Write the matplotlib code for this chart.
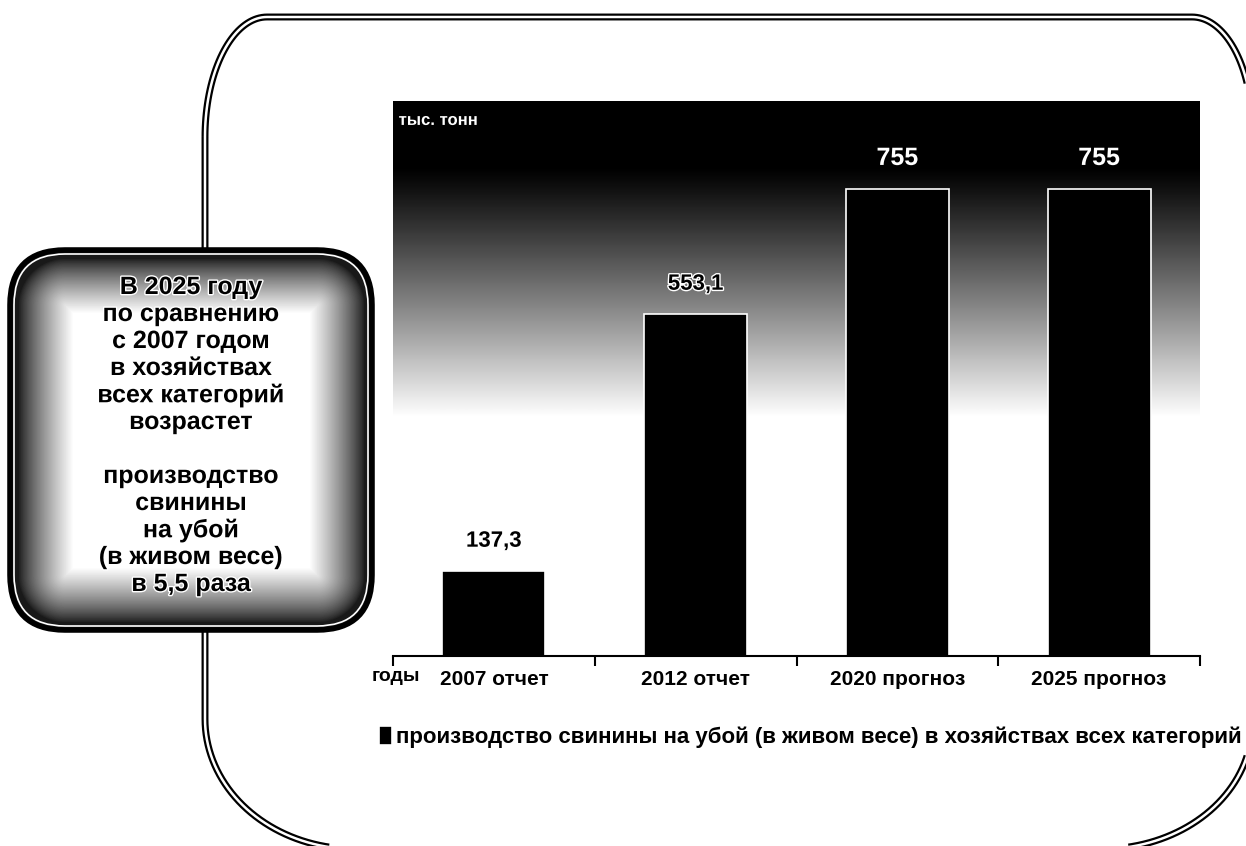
import numpy as np
import matplotlib.pyplot as plt
import matplotlib.patheffects as pe
from matplotlib.patches import FancyBboxPatch, Polygon

# data
categories = ['2007 отчет', '2012 отчет', '2020 прогноз', '2025 прогноз']
values = [137.3, 553.1, 755, 755]
value_labels = ['137,3', '553,1', '755', '755']
unit_label = 'тыс. тонн'
axis_label = 'годы'
legend_label = 'производство свинины на убой (в живом весе) в хозяйствах всех категорий'
note_lines = ['В 2025 году', 'по сравнению', 'с 2007 годом', 'в хозяйствах',
              'всех категорий', 'возрастет', '', 'производство', 'свинины',
              'на убой', '(в живом весе)', 'в 5,5 раза']

W, H = 1246, 846
plt.rcParams['font.family'] = ['Liberation Sans', 'DejaVu Sans']

fig = plt.figure(figsize=(W / 100, H / 100), dpi=100)
fig.patch.set_facecolor('white')

# background layer in pixel coordinates (y grows downward)
bg = fig.add_axes([0, 0, 1, 1], zorder=0)
bg.set_xlim(0, W)
bg.set_ylim(H, 0)
bg.axis('off')


def corner(cx, cy, rx, ry, a0, a1):
    t = np.radians(np.linspace(a0, a1, 40))
    return np.column_stack([cx + rx * np.cos(t), cy + ry * np.sin(t)])


# big outer frame: rounded outline with different corner radii
x0, y0, x1, y1 = 205, 17, 1252, 849
outline = np.vstack([
    corner(x0 + 62, y0 + 120, 62, 120, 180, 270),     # top-left
    corner(x1 - 60, y0 + 110, 60, 110, 270, 360),     # top-right
    corner(x1 - 150, y1 - 125, 150, 125, 0, 90),      # bottom-right
    corner(x0 + 150, y1 - 130, 150, 130, 90, 180),    # bottom-left
])
bg.add_patch(Polygon(outline, closed=True, fill=False, ec='black', lw=5))
bg.add_patch(Polygon(outline, closed=True, fill=False, ec='white', lw=1.8))

# left note box with dark edges fading to white
bx0, by0, bx1, by1, br = 10, 250, 372, 630, 55
gx, gy = np.meshgrid(np.arange(bx0, bx1), np.arange(by0, by1))
cx, cy = (bx0 + bx1) / 2, (by0 + by1) / 2
qx = np.abs(gx - cx) - ((bx1 - bx0) / 2 - br)
qy = np.abs(gy - cy) - ((by1 - by0) / 2 - br)
sdf = np.hypot(np.maximum(qx, 0), np.maximum(qy, 0)) + np.minimum(np.maximum(qx, qy), 0) - br
shade = 0.1 + 0.9 * np.clip((-sdf - 8) / 55, 0, 1) ** 0.8
box = FancyBboxPatch((bx0 + br, by0 + br), bx1 - bx0 - 2 * br, by1 - by0 - 2 * br,
                     boxstyle=f'round,pad={br}', fc='none', ec='black', lw=4, zorder=3)
bg.add_patch(box)
img = bg.imshow(shade, cmap='gray', vmin=0, vmax=1, extent=(bx0, bx1, by1, by0),
                zorder=2, aspect='auto', interpolation='bilinear')
img.set_clip_path(box)
bg.add_patch(FancyBboxPatch((bx0 + br, by0 + br), bx1 - bx0 - 2 * br, by1 - by0 - 2 * br,
                            boxstyle=f'round,pad={br - 4}', fc='none', ec='white', lw=1.2, zorder=3))
line_y = 287
for line in note_lines:
    if line:
        bg.text(191, line_y, line, ha='center', va='center', fontsize=18,
                fontweight='bold', color='black', zorder=4,
                path_effects=[pe.withStroke(linewidth=2, foreground='white')])
    line_y += 27

# chart
ax = fig.add_axes([393 / W, 1 - 656 / H, (1200 - 393) / W, (656 - 101) / H], zorder=1)
ax.set_xlim(-0.5, 3.5)
ax.set_ylim(0, 898)
x = np.arange(len(categories))

grad = np.linspace(0, 1, 300)
bright = np.clip((grad - 0.12) / 0.45, 0, 1) ** 1.1
ax.imshow(bright[:, None], cmap='gray', vmin=0, vmax=1, extent=(-0.5, 3.5, 0, 898),
          aspect='auto', zorder=0, interpolation='bilinear')

bars = ax.bar(x, values, width=0.51, color='black', edgecolor='white', linewidth=1.2,
              zorder=2, label=legend_label)

for i, (v, lab) in enumerate(zip(values, value_labels)):
    if v > 700:
        ax.annotate(lab, (x[i], v), xytext=(0, 14), textcoords='offset points',
                    ha='center', va='bottom', fontsize=18, fontweight='bold',
                    color='white', zorder=3,
                    path_effects=[pe.withStroke(linewidth=3, foreground='black')])
    else:
        ax.annotate(lab, (x[i], v), xytext=(0, 14), textcoords='offset points',
                    ha='center', va='bottom', fontsize=16, fontweight='bold',
                    color='black', zorder=3,
                    path_effects=[pe.withStroke(linewidth=2, foreground='white')])

ax.text(0.007, 0.965, unit_label, transform=ax.transAxes, ha='left', va='center',
        fontsize=12, fontweight='bold', color='white', zorder=3,
        path_effects=[pe.withStroke(linewidth=2.5, foreground='black')])

for side in ['left', 'right', 'top']:
    ax.spines[side].set_visible(False)
ax.spines['bottom'].set_linewidth(1.5)
ax.set_yticks([])
ax.set_xticks(np.arange(-0.5, 4, 1))
ax.set_xticklabels([])
ax.set_xticks(x, minor=True)
ax.set_xticklabels(categories, minor=True, fontsize=15, fontweight='bold')
ax.tick_params(axis='x', which='major', length=7, width=1.5, direction='out')
ax.tick_params(axis='x', which='minor', length=0, pad=10)

fig.text(420 / W, 1 - 676 / H, axis_label, ha='right', va='center', fontsize=14,
         fontweight='bold')

ax.legend(handles=[bars], loc='center', bbox_to_anchor=(810 / W, 1 - 737 / H),
          bbox_transform=fig.transFigure, frameon=False,
          prop={'weight': 'bold', 'size': 16}, handlelength=0.6, handleheight=0.9,
          handletextpad=0.15)

fig.savefig('out.png', dpi=100)
